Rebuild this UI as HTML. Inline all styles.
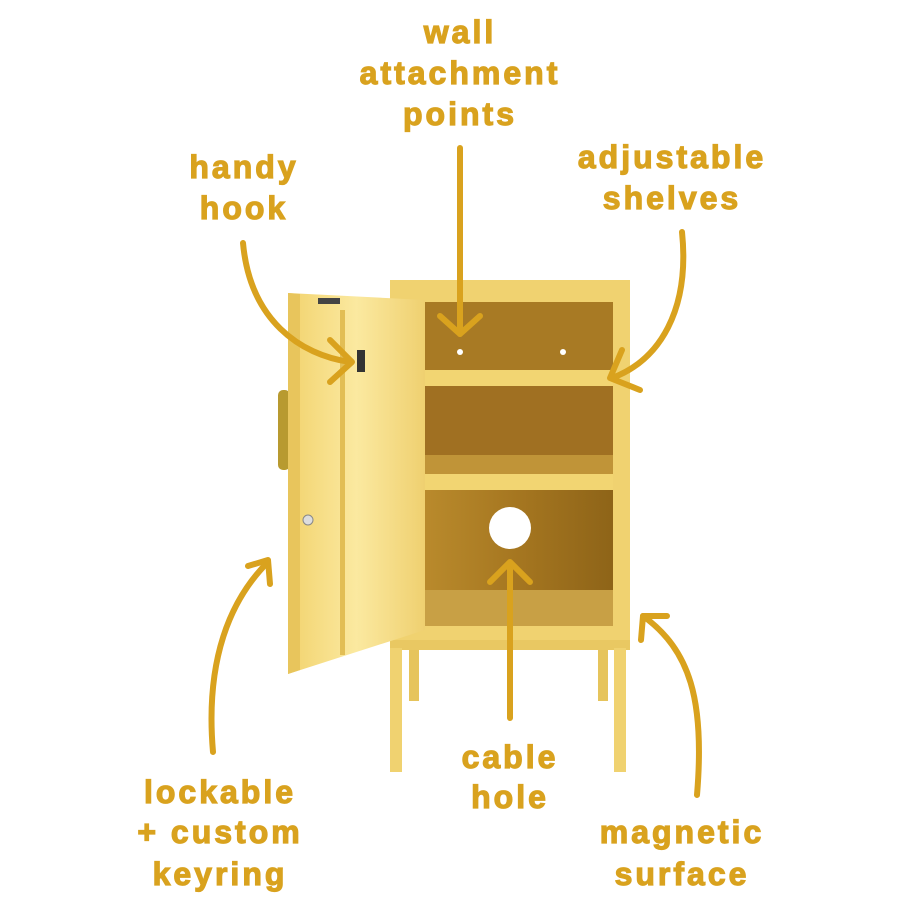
<!DOCTYPE html>
<html><head><meta charset="utf-8"><style>
html,body{margin:0;padding:0;background:#fff;}
svg{display:block;}
text{font-family:"Liberation Sans",sans-serif;font-weight:bold;font-size:32px;fill:#D9A21E;stroke:#D9A21E;stroke-width:1.2px;letter-spacing:3px;text-anchor:middle;}
</style></head><body>
<svg width="908" height="908" viewBox="0 0 908 908" xmlns="http://www.w3.org/2000/svg">
<defs>
<linearGradient id="int" x1="0" y1="0" x2="1" y2="0">
<stop offset="0" stop-color="#B98A2C"/><stop offset="0.5" stop-color="#A57620"/><stop offset="1" stop-color="#8E6418"/>
</linearGradient>
<linearGradient id="door" x1="0" y1="0" x2="1" y2="0">
<stop offset="0" stop-color="#F2D36E"/><stop offset="0.5" stop-color="#FBE9A0"/><stop offset="1" stop-color="#EFD070"/>
</linearGradient>
</defs>
<rect x="409" y="645" width="10" height="56" fill="#E6C45C"/>
<rect x="598" y="645" width="10" height="56" fill="#E6C45C"/>
<rect x="390" y="280" width="240" height="370" fill="#F0D270"/>
<rect x="425" y="302" width="188" height="333" fill="url(#int)"/>
<rect x="425" y="302" width="188" height="70" fill="#A87A24"/>
<rect x="425" y="385" width="188" height="90" fill="#A07022"/>
<rect x="425" y="455" width="188" height="20" fill="#C09438"/>
<rect x="425" y="590" width="188" height="40" fill="#C8A045"/>
<rect x="425" y="370" width="188" height="16" fill="#F2D572"/>
<rect x="425" y="474" width="188" height="16" fill="#F2D572"/>
<rect x="425" y="626" width="190" height="14" fill="#F0D270"/>
<rect x="390" y="640" width="240" height="10" fill="#E9C862"/>
<circle cx="510" cy="528" r="21" fill="#fff"/>
<circle cx="460" cy="352" r="3" fill="#fff"/>
<circle cx="563" cy="352" r="3" fill="#fff"/>
<rect x="390" y="648" width="12" height="124" fill="#F0D270"/>
<rect x="614" y="648" width="12" height="124" fill="#F0D270"/>
<rect x="278" y="390" width="12" height="80" rx="5" fill="#B89A30"/>
<polygon points="288,293 425,300 425,630 288,674" fill="url(#door)"/>
<polygon points="288,293 300,294 300,670 288,674" fill="#E8C55C"/>
<rect x="340" y="310" width="5" height="345" fill="#E2BE55"/>
<rect x="357" y="350" width="8" height="22" fill="#333"/>
<circle cx="308" cy="520" r="5" fill="#ddd" stroke="#888"/>
<rect x="318" y="298" width="22" height="6" fill="#444"/>
<g fill="none" stroke="#D9A21E" stroke-width="6" stroke-linecap="round" stroke-linejoin="round">
<path d="M460,148 L460,334"/><path d="M440,316 L460,334 L480,316"/>
<path d="M243,243 C250,320 300,355 350,362"/><path d="M330,340 L352,362 L330,382"/>
<path d="M682,232 C690,310 660,360 612,378"/><path d="M622,350 L610,378 L640,390"/>
<path d="M510,718 L510,563"/><path d="M490,582 L510,562 L530,582"/>
<path d="M213,752 C205,660 230,600 268,562"/><path d="M248,566 L268,560 L270,584"/>
<path d="M697,795 C705,700 690,650 643,616"/><path d="M641,640 L643,616 L667,616"/>
</g>
<text x="460" y="43">wall</text>
<text x="460" y="84">attachment</text>
<text x="460" y="125">points</text>
<text x="244" y="178">handy</text>
<text x="244" y="219">hook</text>
<text x="672" y="168">adjustable</text>
<text x="672" y="209">shelves</text>
<text x="510" y="768">cable</text>
<text x="510" y="808">hole</text>
<text x="220" y="803">lockable</text>
<text x="220" y="843">+ custom</text>
<text x="220" y="885">keyring</text>
<text x="682" y="843">magnetic</text>
<text x="682" y="885">surface</text>
</svg>
</body></html>
